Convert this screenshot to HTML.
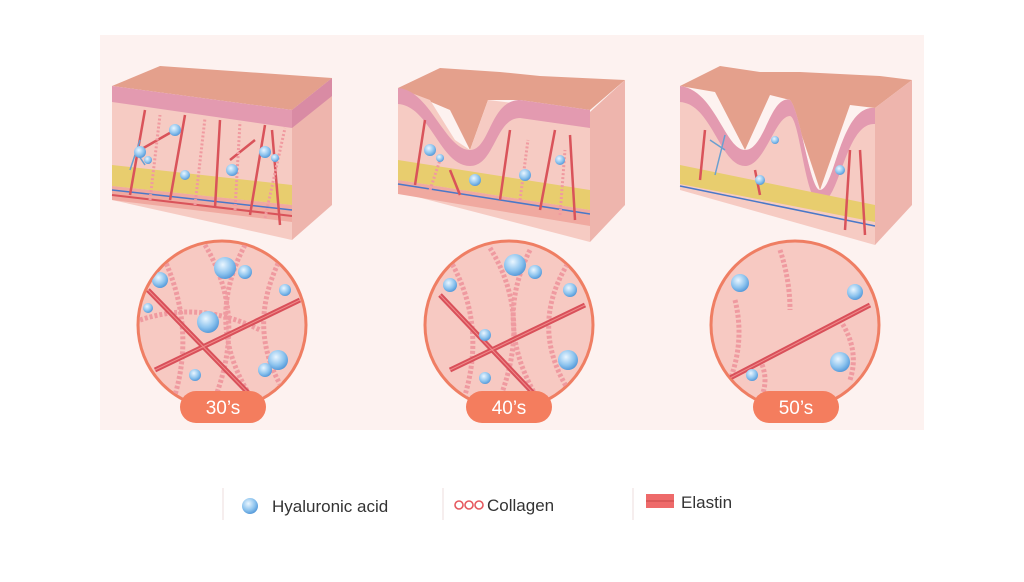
<!DOCTYPE html>
<html><head><style>
body{margin:0;background:#fff;width:1024px;height:577px;overflow:hidden;font-family:"Liberation Sans",sans-serif}
</style></head><body>
<svg width="1024" height="577" viewBox="0 0 1024 577" xmlns="http://www.w3.org/2000/svg">
<defs>
<clipPath id="c1"><circle cx="222" cy="325" r="83"/></clipPath>
<clipPath id="c2"><circle cx="509" cy="325" r="83"/></clipPath>
<clipPath id="c3"><circle cx="795" cy="325" r="83"/></clipPath>
<radialGradient id="bub" cx="0.4" cy="0.35" r="0.7"><stop offset="0" stop-color="#eaf6ff"/><stop offset="0.6" stop-color="#8cc3ee"/><stop offset="1" stop-color="#4d93d6"/></radialGradient>
</defs>
<rect x="100" y="35" width="824" height="395" fill="#fdf2f0"/>

<!-- Block 1 -->
<g>
<polygon points="112,86 160,66 332,78 292,110" fill="#e4a08c"/>
<polygon points="112,86 292,110 292,240 112,200" fill="#f6cbc3"/>
<polygon points="112,86 292,110 292,128 112,102" fill="#e39ab0"/>
<polygon points="112,165 292,185 292,205 112,186" fill="#e8cd6e"/>
<polygon points="112,186 292,205 292,222 112,200" fill="#f0a9a0"/>
<line x1="112" y1="190" x2="292" y2="210" stroke="#4a78c8" stroke-width="1.5"/>
<line x1="112" y1="195" x2="292" y2="216" stroke="#d9535a" stroke-width="2"/>
<polygon points="292,110 332,78 332,205 292,240" fill="#eeb5ad"/>
<polygon points="292,110 332,78 332,96 292,128" fill="#d98ba4"/>
<g stroke="#d9535a" stroke-width="2.5" fill="none"><path d="M130,195 L145,110 M170,200 L185,115 M215,208 L220,120 M250,215 L265,125 M280,225 L272,130 M140,150 L175,130 M230,160 L255,140"/></g>
<g stroke="#f09aa0" stroke-width="3" stroke-dasharray="2 2"><path d="M150,200 L160,115 M195,205 L205,118 M235,210 L240,122 M265,218 L285,128"/></g>
<g stroke="#6a9fd0" stroke-width="1.5" fill="none"><path d="M130,170 L140,140 M145,165 L135,150"/></g>
<g fill="url(#bub)"><circle cx="175" cy="130" r="6"/><circle cx="140" cy="152" r="6"/><circle cx="232" cy="170" r="6"/><circle cx="265" cy="152" r="6"/><circle cx="185" cy="175" r="5"/><circle cx="148" cy="160" r="4"/><circle cx="275" cy="158" r="4"/></g>
</g>

<!-- Block 2 -->
<g>
<polygon points="398,88 440,68 500,72 540,76 625,80 590,110 520,100 488,100 470,150 450,110" fill="#e4a08c"/>
<polygon points="398,88 430,100 455,140 470,150 488,100 590,112 590,242 398,192" fill="#f6cbc3"/>
<path d="M398,88 C430,90 445,150 470,150 C490,150 490,100 520,100 L590,110 L590,128 L520,118 C495,118 495,166 470,166 C440,166 430,106 398,104Z" fill="#e39ab0"/>
<polygon points="398,160 590,190 590,210 398,180" fill="#e8cd6e"/>
<polygon points="398,180 590,210 590,226 398,194" fill="#f0a9a0"/>
<line x1="398" y1="184" x2="590" y2="214" stroke="#4a78c8" stroke-width="1.5"/>
<polygon points="590,112 625,80 625,205 590,242" fill="#eeb5ad"/>
<g stroke="#d9535a" stroke-width="2.5" fill="none"><path d="M415,185 L425,120 M460,195 L450,170 M500,200 L510,130 M540,210 L555,130 M575,220 L570,135"/></g>
<g stroke="#f09aa0" stroke-width="3" stroke-dasharray="2 2"><path d="M430,190 L440,160 M520,200 L528,140 M560,215 L565,150"/></g>
<g fill="url(#bub)"><circle cx="430" cy="150" r="6"/><circle cx="475" cy="180" r="6"/><circle cx="525" cy="175" r="6"/><circle cx="560" cy="160" r="5"/><circle cx="440" cy="158" r="4"/></g>
</g>

<!-- Block 3 -->
<g>
<polygon points="680,86 720,66 760,72 800,72 840,74 880,76 912,80 875,108 850,105 820,190 790,100 770,95 745,150 715,92" fill="#e4a08c"/>
<path d="M680,86 C715,90 725,150 745,150 C765,150 770,95 790,100 C800,110 810,190 820,190 C835,190 840,105 875,108 L875,245 L680,190Z" fill="#f6cbc3"/>
<path d="M680,86 C715,90 725,150 745,150 C765,150 770,95 790,100 C800,110 810,190 820,190 C835,190 840,105 875,108 L875,124 C845,122 840,203 820,203 C805,203 800,118 790,116 C775,116 765,166 745,166 C720,166 712,104 680,102Z" fill="#e39ab0"/>
<polygon points="680,165 875,205 875,222 680,184" fill="#e8cd6e"/>
<line x1="680" y1="186" x2="875" y2="226" stroke="#4a78c8" stroke-width="1.5"/>
<polygon points="875,108 912,80 912,205 875,245" fill="#eeb5ad"/>
<g stroke="#d9535a" stroke-width="2.5" fill="none"><path d="M700,180 L705,130 M760,195 L755,170 M845,230 L850,150 M865,235 L860,150"/></g>
<g stroke="#6a9fd0" stroke-width="1.5" fill="none"><path d="M715,175 L725,135 M725,150 L710,140"/></g>
<g fill="url(#bub)"><circle cx="760" cy="180" r="5"/><circle cx="775" cy="140" r="4"/><circle cx="840" cy="170" r="5"/></g>
</g>

<!-- Circles -->
<g>
<circle cx="222" cy="325" r="84" fill="#f7c9c2" stroke="#ef7e63" stroke-width="3"/>
<g clip-path="url(#c1)">
<g stroke="#ef9aa0" stroke-width="5" stroke-dasharray="3 2" fill="none"><path d="M160,250 Q200,330 170,410 M205,245 Q250,320 210,410 M245,245 Q200,330 260,410 M285,250 Q240,330 290,400 M140,320 Q200,300 260,330"/></g>
<g stroke="#d9505a" stroke-width="5"><line x1="148" y1="290" x2="260" y2="405"/><line x1="155" y1="370" x2="300" y2="300"/></g>
<g stroke="#f08a8a" stroke-width="1"><line x1="148" y1="290" x2="260" y2="405"/><line x1="155" y1="370" x2="300" y2="300"/></g>
<g fill="url(#bub)"><circle cx="225" cy="268" r="11"/><circle cx="245" cy="272" r="7"/><circle cx="160" cy="280" r="8"/><circle cx="208" cy="322" r="11"/><circle cx="278" cy="360" r="10"/><circle cx="265" cy="370" r="7"/><circle cx="195" cy="375" r="6"/><circle cx="285" cy="290" r="6"/><circle cx="148" cy="308" r="5"/></g>
</g>
<rect x="180" y="391" width="86" height="32" rx="16" fill="#f47d5e"/>
<text x="223" y="414" font-size="19" fill="#fff" text-anchor="middle">30’s</text>
</g>

<g>
<circle cx="509" cy="325" r="84" fill="#f7c9c2" stroke="#ef7e63" stroke-width="3"/>
<g clip-path="url(#c2)">
<g stroke="#ef9aa0" stroke-width="5" stroke-dasharray="3 2" fill="none"><path d="M450,260 Q490,330 460,410 M490,248 Q535,320 495,410 M530,250 Q490,330 545,410 M570,260 Q525,330 575,400"/></g>
<g stroke="#d9505a" stroke-width="5"><line x1="440" y1="295" x2="535" y2="395"/><line x1="450" y1="370" x2="585" y2="305"/></g>
<g stroke="#f08a8a" stroke-width="1"><line x1="440" y1="295" x2="535" y2="395"/><line x1="450" y1="370" x2="585" y2="305"/></g>
<g fill="url(#bub)"><circle cx="515" cy="265" r="11"/><circle cx="535" cy="272" r="7"/><circle cx="450" cy="285" r="7"/><circle cx="570" cy="290" r="7"/><circle cx="568" cy="360" r="10"/><circle cx="485" cy="335" r="6"/><circle cx="485" cy="378" r="6"/></g>
</g>
<rect x="466" y="391" width="86" height="32" rx="16" fill="#f47d5e"/>
<text x="509" y="414" font-size="19" fill="#fff" text-anchor="middle">40’s</text>
</g>

<g>
<circle cx="795" cy="325" r="84" fill="#f7c9c2" stroke="#ef7e63" stroke-width="3"/>
<g clip-path="url(#c3)">
<g stroke="#ef9aa0" stroke-width="5" stroke-dasharray="3 2" fill="none"><path d="M735,300 Q745,340 730,380 M780,250 Q790,280 790,310 M840,320 Q860,350 850,380 M760,360 Q770,380 760,400"/></g>
<g stroke="#d9505a" stroke-width="5"><line x1="730" y1="378" x2="870" y2="305"/></g>
<g stroke="#f08a8a" stroke-width="1"><line x1="730" y1="378" x2="870" y2="305"/></g>
<g fill="url(#bub)"><circle cx="740" cy="283" r="9"/><circle cx="855" cy="292" r="8"/><circle cx="840" cy="362" r="10"/><circle cx="752" cy="375" r="6"/></g>
</g>
<rect x="753" y="391" width="86" height="32" rx="16" fill="#f47d5e"/>
<text x="796" y="414" font-size="19" fill="#fff" text-anchor="middle">50’s</text>
</g>

<!-- Legend -->
<line x1="223" y1="488" x2="223" y2="520" stroke="#f6eeee" stroke-width="2"/>
<line x1="443" y1="488" x2="443" y2="520" stroke="#f6eeee" stroke-width="2"/>
<line x1="633" y1="488" x2="633" y2="520" stroke="#f6eeee" stroke-width="2"/>
<circle cx="250" cy="506" r="8" fill="url(#bub)"/>
<text x="272" y="512" font-size="17" fill="#333">Hyaluronic acid</text>
<g fill="none" stroke="#e5585e" stroke-width="1.6"><circle cx="459" cy="505" r="4"/><circle cx="469" cy="505" r="4"/><circle cx="479" cy="505" r="4"/></g>
<text x="487" y="511" font-size="17" fill="#333">Collagen</text>
<rect x="646" y="494" width="28" height="14" fill="#ee6a6a"/>
<line x1="646" y1="501" x2="674" y2="501" stroke="#c84848" stroke-width="1"/>
<text x="681" y="508" font-size="17" fill="#333">Elastin</text>
</svg>
</body></html>
